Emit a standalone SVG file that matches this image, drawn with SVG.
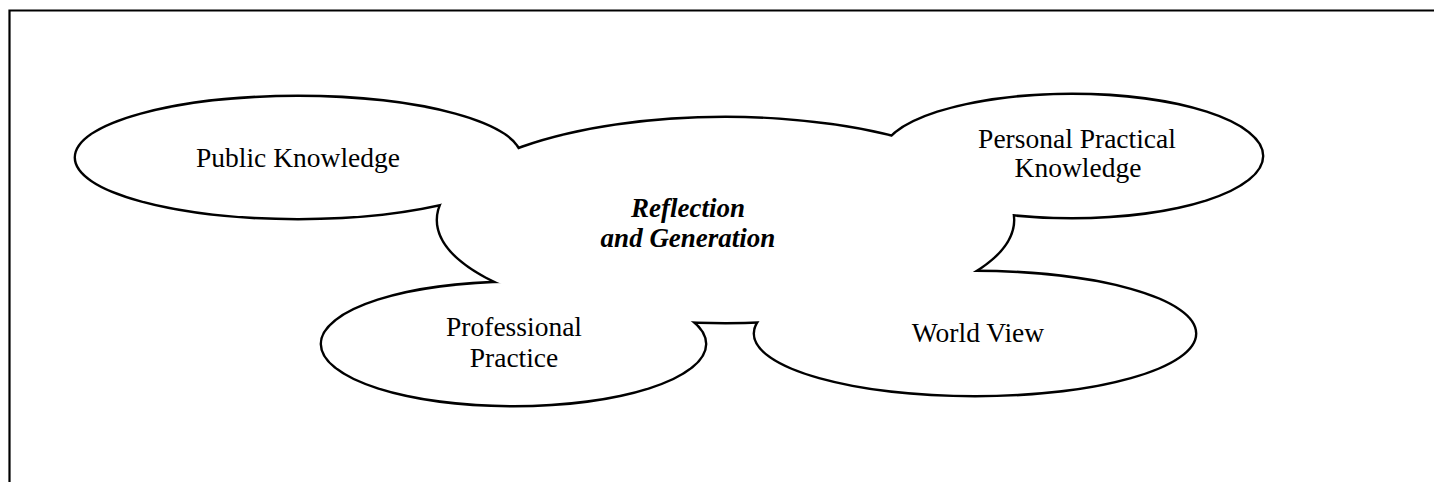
<svg xmlns="http://www.w3.org/2000/svg" xmlns:xlink="http://www.w3.org/1999/xlink" width="1434" height="482" viewBox="0 0 1434 482">
<style>
.frame{fill:none;stroke:#000;stroke-width:2.2}
.outline{fill:none;stroke:#000;stroke-width:4.8}
.fill{fill:#fff;stroke:none}
.lbl{font-family:"Liberation Serif","Times New Roman",serif;font-size:27.5px;fill:#000;text-anchor:middle}
.em{font-weight:bold;font-style:italic;font-size:27px}
</style>
<defs>
<ellipse id="e-pk" cx="298" cy="157.5" rx="222" ry="60.5"/>
<ellipse id="e-rg" cx="725.5" cy="220" rx="287.5" ry="102"/>
<ellipse id="e-ppk" cx="1072" cy="156" rx="190" ry="61"/>
<ellipse id="e-pp" cx="513.5" cy="344" rx="191.5" ry="61"/>
<ellipse id="e-wv" cx="975" cy="333.5" rx="220" ry="61.5"/>
</defs>
<rect width="1434" height="482" fill="#fff"/>
<g id="frame">
<path class="frame" d="M9.5 482 V10.5 H1434"/>
</g>
<g id="connectors">
<use xlink:href="#e-pk" class="outline"/>
<use xlink:href="#e-rg" class="outline"/>
<use xlink:href="#e-ppk" class="outline"/>
<use xlink:href="#e-pp" class="outline"/>
<use xlink:href="#e-wv" class="outline"/>
</g>
<g id="node-public-knowledge">
<use xlink:href="#e-pk" class="fill"/>
</g>
<g id="node-reflection-generation">
<use xlink:href="#e-rg" class="fill"/>
</g>
<g id="node-personal-practical-knowledge">
<use xlink:href="#e-ppk" class="fill"/>
</g>
<g id="node-professional-practice">
<use xlink:href="#e-pp" class="fill"/>
</g>
<g id="node-world-view">
<use xlink:href="#e-wv" class="fill"/>
</g>
<g id="labels">
<text class="lbl" x="298" y="167">Public Knowledge</text>
<text class="lbl em" x="688" y="217">Reflection</text>
<text class="lbl em" x="688" y="247">and Generation</text>
<text class="lbl" x="1077" y="148">Personal Practical</text>
<text class="lbl" x="1078" y="177">Knowledge</text>
<text class="lbl" x="514" y="336">Professional</text>
<text class="lbl" x="514" y="367">Practice</text>
<text class="lbl" x="978" y="342">World View</text>
</g>
</svg>
